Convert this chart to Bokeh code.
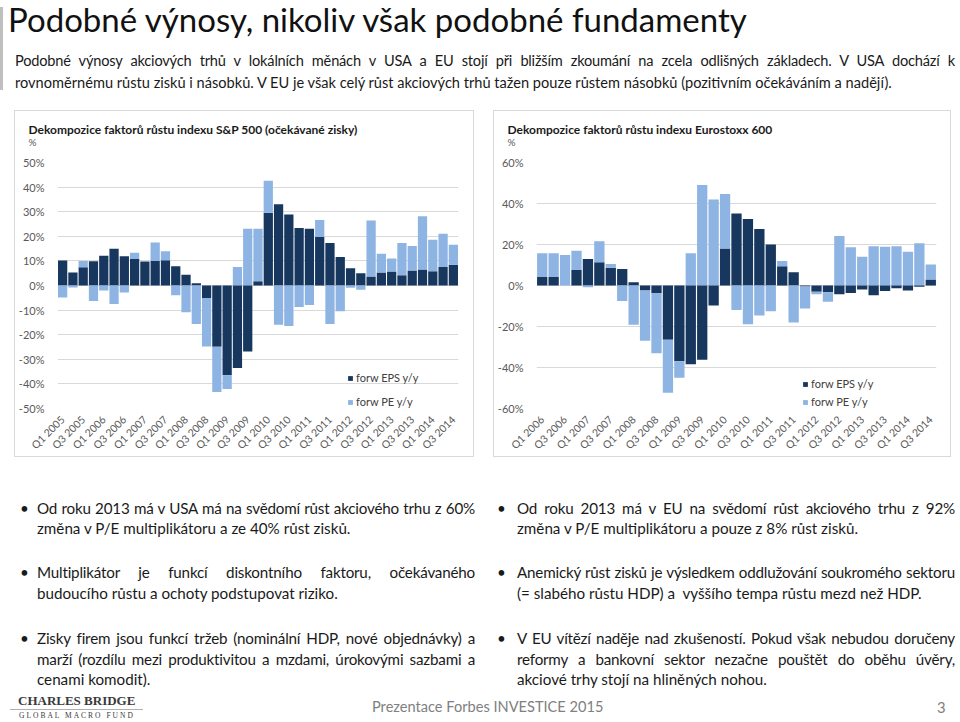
import numpy as np
from math import pi
from bokeh.plotting import figure
from bokeh.models import (Range1d, FixedTicker, PrintfTickFormatter, Legend, LegendItem,
                          ColumnDataSource, Div, Spacer, Title)
from bokeh.layouts import column, row
from bokeh.embed import file_html
from bokeh.resources import INLINE

FONT = "Lato"
DARK = "#17375E"
LIGHT = "#8EB4E3"
GRID = "#d9d9d9"
AXIS_TXT = "#595959"

# ---------------- data ----------------
sp_title = "Dekompozice faktorů růstu indexu S&P 500 (očekávané zisky)"
sp_ticks = ["Q1 2005", "Q3 2005", "Q1 2006", "Q3 2006", "Q1 2007", "Q3 2007", "Q1 2008",
            "Q3 2008", "Q1 2009", "Q3 2009", "Q1 2010", "Q3 2010", "Q1 2011", "Q3 2011",
            "Q1 2012", "Q3 2012", "Q1 2013", "Q3 2013", "Q1 2014", "Q3 2014"]
sp_eps = [10.2, 5.3, 7.4, 9.9, 12.1, 14.9, 11.9, 10.8, 9.8, 10.0, 10.3, 7.8, 4.4, 0.9,
          -5.1, -24.9, -36.5, -33.5, -26.8, 1.7, 29.6, 33.0, 28.9, 23.4, 23.1, 19.7,
          17.3, 11.6, 7.0, 5.0, 3.7, 5.3, 5.7, 4.2, 6.1, 6.5, 5.8, 7.5, 8.4]
sp_pe = [-4.9, -0.8, 2.6, -6.3, -2.0, -7.5, -2.8, 2.5, 0.0, 7.5, 3.6, -4.0, -10.9, -15.7,
         -19.7, -18.4, -5.6, 7.5, 23.1, 21.4, 13.0, -16.0, -16.5, -8.7, -7.9, 6.9,
         -15.7, -10.5, -0.9, -1.7, 22.7, 7.6, 5.3, 13.1, 10.0, 21.7, 12.8, 13.5, 8.2]

eu_title = "Dekompozice faktorů růstu indexu Eurostoxx 600"
eu_ticks = ["Q1 2006", "Q3 2006", "Q1 2007", "Q3 2007", "Q1 2008", "Q3 2008", "Q1 2009",
            "Q3 2009", "Q1 2010", "Q3 2010", "Q1 2011", "Q3 2011", "Q1 2012", "Q3 2012",
            "Q1 2013", "Q3 2013", "Q1 2014", "Q3 2014"]
eu_eps = [4.1, 4.1, 0.0, 7.6, 12.9, 11.4, 8.7, 8.1, 1.6, -2.4, -3.6, -26.5, -37.0, -38.4,
          -36.2, -9.8, 18.1, 35.1, 32.5, 27.6, 20.0, 9.4, 6.5, -0.5, -3.1, -3.3, -4.3,
          -3.6, -2.0, -4.7, -2.7, -1.4, -2.4, -0.6, 2.9]
eu_pe = [11.6, 11.6, 14.9, 9.4, -0.8, 10.2, 1.8, -7.6, -19.2, -24.5, -29.5, -25.8, -8.0,
         15.7, 49.0, 41.9, 26.5, -12.0, -18.9, -14.6, -12.6, 2.5, -18.1, -10.7, -1.2,
         -4.6, 24.1, 18.6, 14.0, 19.2, 18.9, 19.2, 16.5, 20.6, 7.4]

legend_labels = ["forw EPS y/y", "forw PE y/y"]

slide_title = "Podobné výnosy, nikoliv však podobné fundamenty"
intro_lines = [
    "Podobné výnosy akciových trhů v lokálních měnách v USA a EU stojí při bližším zkoumání na zcela odlišných základech. V USA dochází k",
    "rovnoměrnému růstu zisků i násobků. V EU je však celý růst akciových trhů tažen pouze růstem násobků (pozitivním očekáváním a nadějí).",
]
left_bullets = [
    ["Od roku 2013 má v USA má na svědomí růst akciového trhu z 60%",
     "změna v P/E multiplikátoru a ze 40% růst zisků."],
    ["Multiplikátor je funkcí diskontního faktoru, očekávaného",
     "budoucího růstu a ochoty podstupovat riziko."],
    ["Zisky firem jsou funkcí tržeb (nominální HDP, nové objednávky) a",
     "marží (rozdílu mezi produktivitou a mzdami, úrokovými sazbami a",
     "cenami komodit)."],
]
right_bullets = [
    ["Od roku 2013 má v EU na svědomí růst akciového trhu z 92%",
     "změna v P/E multiplikátoru a pouze z 8% růst zisků."],
    ["Anemický růst zisků je výsledkem oddlužování soukromého sektoru",
     "(= slabého růstu HDP) a&nbsp; vyššího tempa růstu mezd než HDP."],
    ["V EU vítězí naděje nad zkušeností. Pokud však nebudou doručeny",
     "reformy a bankovní sektor nezačne pouštět do oběhu úvěry,",
     "akciové trhy stojí na hliněných nohou."],
]
footer_text = "Prezentace Forbes INVESTICE 2015"
page_no = "3"


# ---------------- charts ----------------
def chart(title, ticks, eps, pe, ymax, ystep, width, frame_w, frame_h, leg_x, leg_y, leg_sp):
    n = len(eps)
    e = np.array(eps, float)
    q = np.array(pe, float)
    ep, en = np.maximum(e, 0), np.minimum(e, 0)
    pp, pn = np.maximum(q, 0), np.minimum(q, 0)
    src = ColumnDataSource(dict(x=np.arange(n), ep=ep, ppt=ep + pp, en=en, pnb=en + pn))
    H = 347
    p = figure(width=width, height=H, x_range=Range1d(-0.5, n - 0.5),
               y_range=Range1d(-ymax, ymax), output_backend="svg", toolbar_location=None,
               title=None,
               min_border_left=38, min_border_right=width - 38 - frame_w,
               min_border_top=51, min_border_bottom=H - 51 - frame_h,
               styles={"border": "1px solid #d9d9d9"})
    p.outline_line_color = None
    p.background_fill_color = "white"
    p.border_fill_color = "white"

    r1 = p.vbar(x="x", width=0.9, bottom=0, top="ep", source=src,
                fill_color=DARK, line_color=None)
    r2 = p.vbar(x="x", width=0.9, bottom="ep", top="ppt", source=src,
                fill_color=LIGHT, line_color=None)
    p.vbar(x="x", width=0.9, bottom="en", top=0, source=src, fill_color=DARK, line_color=None)
    p.vbar(x="x", width=0.9, bottom="pnb", top="en", source=src, fill_color=LIGHT, line_color=None)

    yt = FixedTicker(ticks=list(np.arange(-ymax, ymax + 0.1, ystep)))
    p.yaxis.ticker = yt
    p.ygrid.ticker = yt
    p.yaxis.formatter = PrintfTickFormatter(format="%d%%")
    p.ygrid.grid_line_color = GRID
    p.xgrid.grid_line_color = None
    for ax in (p.xaxis[0], p.yaxis[0]):
        ax.axis_line_color = None
        ax.major_tick_line_color = None
        ax.minor_tick_line_color = None
        ax.major_label_text_color = AXIS_TXT
        ax.major_label_text_font = FONT
    p.yaxis.major_label_text_font_size = "11px"
    p.yaxis.major_label_standoff = 7
    p.xaxis.ticker = FixedTicker(ticks=[2 * i for i in range(len(ticks))])
    p.xaxis.major_label_overrides = {2 * i: t for i, t in enumerate(ticks)}
    p.xaxis.major_label_orientation = pi / 4
    p.xaxis.major_label_text_font_size = "10.5px"
    p.xaxis.major_label_standoff = 3

    t_pct = Title(text="%", align="left", offset=-29, text_font=FONT,
                  text_font_size="10px", text_font_style="normal",
                  text_color=AXIS_TXT, standoff=29)
    t_main = Title(text=title, align="left", offset=-29, text_font=FONT,
                   text_font_size="12px", text_font_style="bold",
                   text_color="#1a1a1a", standoff=0)
    try:
        t_main.standoff = -34
    except ValueError:
        t_pct.standoff = 15
    p.add_layout(t_pct, "above")
    p.add_layout(t_main, "above")

    leg = Legend(items=[LegendItem(label=legend_labels[0], renderers=[r1]),
                        LegendItem(label=legend_labels[1], renderers=[r2])],
                 location=(leg_x, leg_y), orientation="vertical")
    leg.background_fill_alpha = 0
    leg.border_line_color = None
    leg.padding = 0
    leg.margin = 0
    leg.glyph_width = 6
    leg.glyph_height = 6
    leg.label_height = 6
    leg.label_standoff = 3
    leg.spacing = leg_sp
    leg.label_text_font = FONT
    leg.label_text_font_size = "11px"
    leg.label_text_color = "#404040"
    p.add_layout(leg)
    return p


p_sp = chart(sp_title, sp_ticks, sp_eps, sp_pe, 50, 10, 460, 405, 252, 290, 0, 11)
p_eu = chart(eu_title, eu_ticks, eu_eps, eu_pe, 60, 20, 458, 404, 253, 266, 0, 5)


# ---------------- text blocks ----------------
def tline(text, left, cy, width, size, justify=False, color="#1a1a1a", lh=21, extra=""):
    top = cy - lh / 2 - 0.134 * size
    st = (f"position:absolute;left:{left}px;top:{top:.1f}px;width:{width}px;"
          f"font-size:{size}px;line-height:{lh}px;white-space:nowrap;color:{color};")
    if justify:
        st += "text-align:justify;text-align-last:justify;letter-spacing:-0.2px;"
    return f'<div style="{st}{extra}">{text}</div>'


HEAD_H = 110
head = [f'<div style="position:relative;width:960px;height:{HEAD_H}px;font-family:Lato;">']
head.append('<div style="position:absolute;left:0px;top:7px;width:3px;height:83px;background:#bfbfbf;"></div>')
head.append('<div style="position:absolute;left:8px;top:7.2px;font-size:33px;line-height:24px;'
            f'white-space:nowrap;color:#111;">{slide_title}</div>')
for i, (t, cy) in enumerate(zip(intro_lines, [62, 84])):
    head.append(tline(t, 15, cy, 940, 14.6, justify=(i == 0)))
head.append("</div>")
header = Div(text="".join(head), width=960, height=HEAD_H, margin=0,
             styles={"overflow": "visible"})

BT = 459
BODY_H = 722 - BT
FS = 15.2
body = [f'<div style="position:relative;width:960px;height:{BODY_H}px;font-family:Lato;">']
centers = [[510, 530], [574, 595], [640, 661, 681]]
for col_items, bx, tx, tw in ((left_bullets, 20, 37, 438), (right_bullets, 497, 517, 438)):
    for lines, cys in zip(col_items, centers):
        body.append(tline("•", bx, cys[0] - BT, 10, FS))
        for j, (t, cy) in enumerate(zip(lines, cys)):
            body.append(tline(t, tx, cy - BT, tw, FS, justify=(j < len(lines) - 1)))
body.append(tline(footer_text, 372, 709 - BT, 300, 14.6, color="#808080", lh=16))
body.append(tline(page_no, 937, 709 - BT, 20, 14.8, color="#808080", lh=16))
body.append(f'<div style="position:absolute;left:18px;top:{701 - BT - 8:.1f}px;font-family:\'Liberation Serif\';'
            f'font-weight:bold;font-size:13px;line-height:16px;color:#3a3a3a;white-space:nowrap;">CHARLES BRIDGE</div>')
body.append(f'<div style="position:absolute;left:10px;top:{709 - BT:.1f}px;width:133px;height:1px;background:#b0b0b0;"></div>')
body.append(f'<div style="position:absolute;left:19px;top:{716 - BT - 5:.1f}px;font-family:\'Liberation Serif\';'
            f'font-size:7.5px;line-height:10px;color:#3a3a3a;letter-spacing:2.0px;white-space:nowrap;">GLOBAL MACRO FUND</div>')
body.append("</div>")
bullets = Div(text="".join(body), width=960, height=BODY_H, margin=0,
              styles={"overflow": "visible"})

charts = row(Spacer(width=14, height=349), p_sp, Spacer(width=19, height=349), p_eu,
             spacing=0)
layout = column(header, charts, bullets, spacing=0)

open("out.html", "w").write(file_html(layout, INLINE))
